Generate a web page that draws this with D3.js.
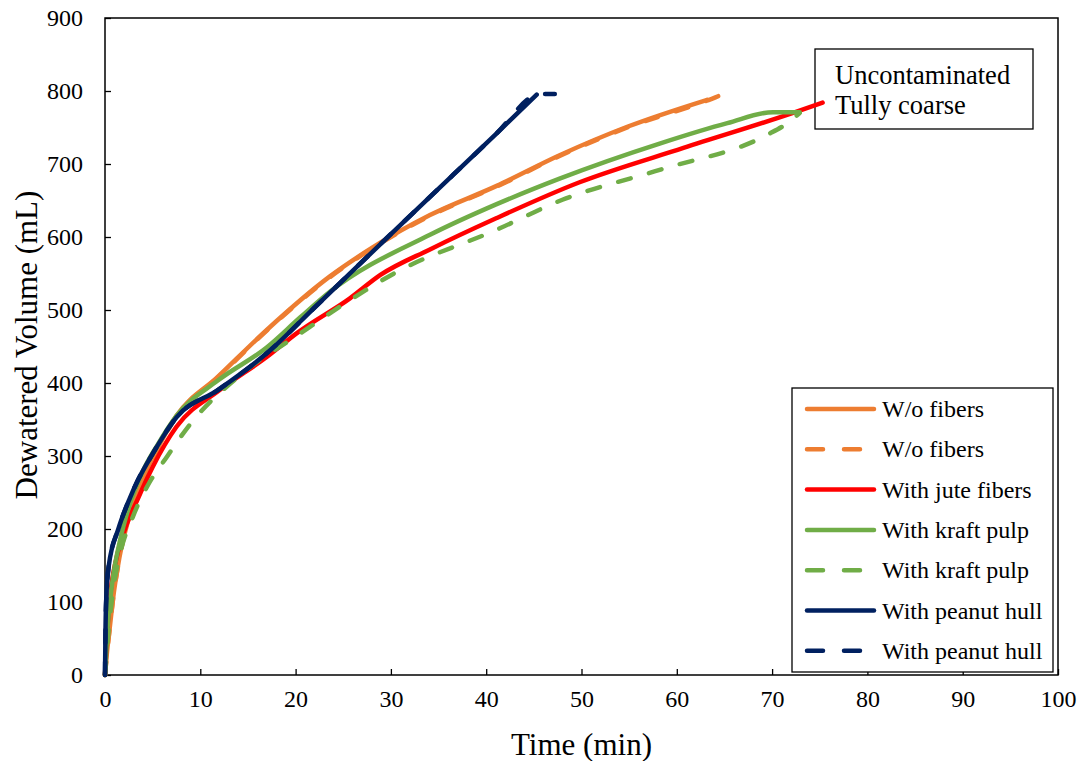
<!DOCTYPE html>
<html>
<head>
<meta charset="utf-8">
<script src="https://cdn.jsdelivr.net/npm/d3@7"></script>
<style>
  body { margin: 0; background: #fff; }
  text { font-family: "Liberation Serif", "Times New Roman", serif; }
</style>
</head>
<body>
<script>
/*
------------------------------
DATA: time (min) and dewatered volume (mL)
------------------------------
*/
const woFibersT  = [0, 0.2, 0.5, 0.8, 1.5, 2.5, 4, 5.5, 7.5, 11.8, 17, 23.6, 28, 34.1, 41.1, 47.7, 54.8, 63.2]
const woFibersV  = [0, 30, 65, 100, 160, 215, 270, 310, 355, 408, 473, 546, 585, 630, 670, 712, 751, 788]
const woFibers2T = [0, 0.2, 0.5, 0.8, 1.5, 2.5, 4, 5.5, 7.5, 11.8, 17, 23.6, 28, 34.1, 41.1, 47.7, 54.8, 63.2, 63.8, 64.9]
const woFibers2V = [0, 29, 64, 99, 159, 214, 269, 309, 354, 407, 472, 545, 584, 629, 669, 711, 750, 787, 790, 796]
const juteT      = [0, 0.15, 0.4, 0.7, 1.2, 2.1, 3.4, 5, 7.5, 12, 17, 20.1, 25.7, 28.9, 34.1, 41.1, 49.8, 60.7, 72.2, 75.3]
const juteV      = [0, 40, 90, 126, 160, 200, 240, 285, 340, 390, 436, 468, 516, 548, 583, 626, 675, 722, 770, 784]
const kraftT     = [0, 0.3, 0.8, 1.5, 2.5, 4, 5.5, 7.5, 11.8, 17, 20.5, 23.6, 34.1, 41.1, 47.7, 58.2, 65.3, 70.1, 72.9]
const kraftV     = [0, 70, 130, 180, 230, 280, 315, 355, 403, 449, 490, 525, 603, 645, 680, 728, 756, 771, 771]
const kraft2T    = [0, 0.3, 0.85, 1.6, 2.9, 4.5, 6.5, 8.9, 14.5, 20.5, 24.7, 30.6, 41.1, 48, 58.2, 69.5, 71.5, 72.9]
const kraft2V    = [0, 50, 116, 167, 216, 260, 299, 343, 414, 468, 505, 552, 610, 651, 692, 740, 755, 770]
const peanutT    = [0, 0.05, 0.15, 0.4, 1.4, 2.6, 3.5, 5, 7.5, 11.8, 17, 22.2, 30, 34.1, 41.1, 45.3]
const peanutV    = [0, 60, 110, 150, 200, 242, 268, 303, 353, 390, 441, 506, 604, 655, 742, 795]
const peanut2T   = [0, 0.05, 0.15, 0.4, 1.4, 2.6, 3.5, 5, 7.5, 11.8, 17, 22.2, 30, 34.1, 41.1, 45.3, 46, 47.2]
const peanut2V   = [0, 60, 110, 150, 200, 242, 268, 303, 353, 390, 441, 506, 604, 655, 742, 795, 796, 796]

const seriesNames = ["W/o fibers", "W/o fibers", "With jute fibers", "With kraft pulp", "With kraft pulp", "With peanut hull", "With peanut hull"]
const xTicks = [0, 10, 20, 30, 40, 50, 60, 70, 80, 90, 100]
const yTicks = [0, 100, 200, 300, 400, 500, 600, 700, 800, 900]

/*
------------------------------
METHOD: set the size of the canvas
------------------------------
*/
const width = 1085
const height = 761
const margin = { top: 18, left: 105, right: 27, bottom: 86 }
const innerW = width - margin.left - margin.right
const innerH = height - margin.top - margin.bottom

const svg = d3.select("body").append("svg")
  .attr("width", width)
  .attr("height", height)

const x = d3.scaleLinear().domain([0, 100]).range([margin.left, margin.left + innerW])
const y = d3.scaleLinear().domain([0, 900]).range([margin.top + innerH, margin.top])

const series = [
  { t: woFibersT,  v: woFibersV,  color: "#ED7D31", dash: null },
  { t: woFibers2T, v: woFibers2V, color: "#ED7D31", dash: "13,19" },
  { t: juteT,      v: juteV,      color: "#FF0000", dash: null },
  { t: kraftT,     v: kraftV,     color: "#70AD47", dash: null },
  { t: kraft2T,    v: kraft2V,    color: "#70AD47", dash: "13,19" },
  { t: peanutT,    v: peanutV,    color: "#002060", dash: null },
  { t: peanut2T,   v: peanut2V,   color: "#002060", dash: "13,19" },
]
series.forEach((s, i) => s.name = seriesNames[i])

// axes with inward ticks
svg.append("g")
  .attr("transform", `translate(0,${margin.top + innerH})`)
  .call(d3.axisBottom(x).tickValues(xTicks).tickSize(-6).tickPadding(15).tickFormat(d3.format("d")))
  .call(g => g.select(".domain").remove())
  .call(g => g.selectAll("line").attr("stroke", "#000").attr("stroke-width", 1.3))
  .call(g => g.selectAll("text").attr("font-size", 24).attr("fill", "#000")
    .style("font-family", "'Liberation Serif', serif"))

svg.append("g")
  .attr("transform", `translate(${margin.left},0)`)
  .call(d3.axisLeft(y).tickValues(yTicks).tickSize(-6).tickPadding(22).tickFormat(d3.format("d")))
  .call(g => g.select(".domain").remove())
  .call(g => g.selectAll("line").attr("stroke", "#000").attr("stroke-width", 1.3))
  .call(g => g.selectAll("text").attr("font-size", 24).attr("fill", "#000")
    .style("font-family", "'Liberation Serif', serif"))

// frame round the plot
svg.append("rect")
  .attr("x", margin.left).attr("y", margin.top)
  .attr("width", innerW).attr("height", innerH)
  .attr("fill", "none").attr("stroke", "#000").attr("stroke-width", 1.5)

// axis titles
svg.append("text")
  .attr("x", x(50)).attr("y", 755)
  .attr("text-anchor", "middle").attr("font-size", 31)
  .text("Time (min)")

svg.append("text")
  .attr("transform", `translate(37,345) rotate(-90)`)
  .attr("text-anchor", "middle").attr("font-size", 31)
  .text("Dewatered Volume (mL)")

// annotation box
svg.append("rect")
  .attr("x", 815).attr("y", 49).attr("width", 218).attr("height", 80)
  .attr("fill", "#fff").attr("stroke", "#000").attr("stroke-width", 1.3)
svg.append("text")
  .attr("x", 835).attr("y", 84).attr("font-size", 26.5)
  .text("Uncontaminated")
svg.append("text")
  .attr("x", 835).attr("y", 114).attr("font-size", 26.5)
  .text("Tully coarse")

// lines
const line = d3.line()
  .x(d => x(d[0]))
  .y(d => y(d[1]))
  .curve(d3.curveMonotoneX)

svg.append("g")
  .selectAll("path")
  .data(series)
  .join("path")
    .attr("d", s => line(s.t.map((t, i) => [t, s.v[i]])))
    .attr("fill", "none")
    .attr("stroke", s => s.color)
    .attr("stroke-width", 4.5)
    .attr("stroke-linecap", "round")
    .attr("stroke-linejoin", "round")
    .attr("stroke-dasharray", s => s.dash)

// legend
const legend = svg.append("g").attr("transform", "translate(792,388)")
legend.append("rect")
  .attr("width", 261).attr("height", 284)
  .attr("fill", "#fff").attr("stroke", "#000").attr("stroke-width", 1.3)

const item = legend.selectAll("g.item")
  .data(series)
  .join("g")
    .attr("class", "item")
    .attr("transform", (d, i) => `translate(0,${21 + i * 40.3})`)

item.append("line")
  .attr("x1", 15).attr("x2", 82)
  .attr("stroke", d => d.color).attr("stroke-width", 4.5)
  .attr("stroke-linecap", "round")
  .attr("stroke-dasharray", d => d.dash ? "16,21" : null)

item.append("text")
  .attr("x", 90).attr("y", 8).attr("font-size", 24)
  .text(d => d.name)
</script>
</body>
</html>
